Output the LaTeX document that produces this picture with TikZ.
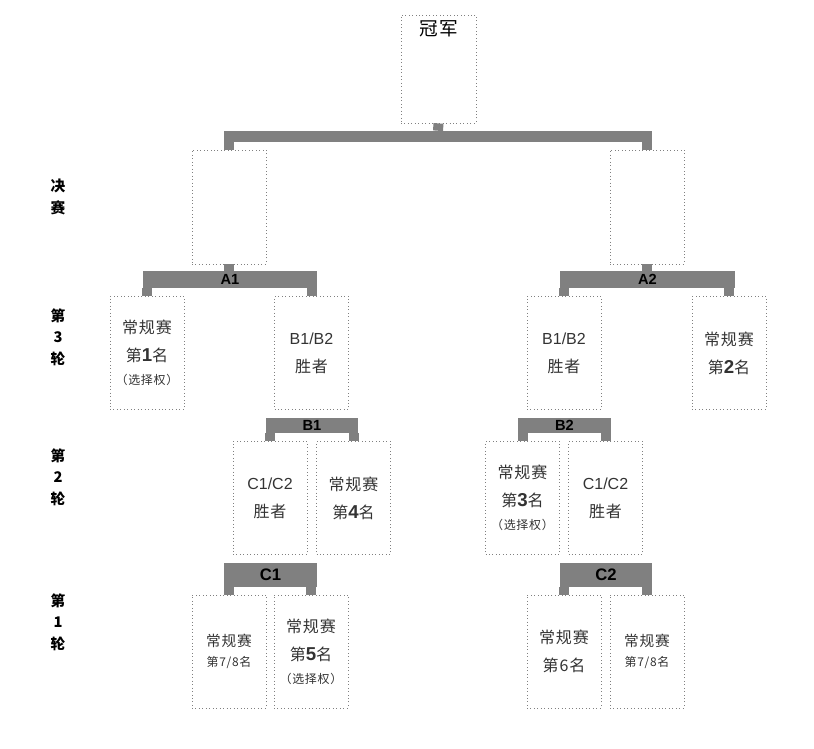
\documentclass[tikz,border=0pt]{standalone}
\usepackage{fontspec}
\setmainfont{Liberation Sans}
\newfontfamily\cjk[LetterSpace=6]{Noto Sans CJK SC}
\usetikzlibrary{positioning}
\newcommand{\rankno}[1]{第{\rmfamily\bfseries\fontsize{14}{14}\selectfont #1}名}
\newcommand{\optpick}{{\fontsize{9}{9}\selectfont （选择权）}}

\begin{document}
\begin{tikzpicture}
	[x=0.75pt,y=-0.75pt,line cap=butt,
	box/.style={draw=gray,dotted,line width=0.6pt,minimum width=55.5pt,minimum height=84.75pt,inner sep=0pt,align=center,text=black!80,font=\cjk\fontsize{12}{21}\selectfont},
	bar/.style={fill=gray,inner sep=0pt,font=\rmfamily\bfseries\fontsize{11}{11}\selectfont},
	stem/.style={draw=gray,line width=7.5pt},
	roundlab/.style={align=center,font=\cjk\bfseries\fontsize{11}{16}\selectfont}]
	\useasboundingbox (0,0) rectangle (814,749);
	\node[box,minimum width=56.25pt,minimum height=81pt] (champ) at (438.5,69) {};
	\node[below=1pt of champ.north,font=\cjk\fontsize{14}{14}\selectfont] (champtxt) {冠军};
	\node[bar,minimum width=321pt,minimum height=8.25pt] (top) at (438,136.5) {};
	\node[box,minimum height=85.5pt] (fL) at (229,207) {};
	\node[box,minimum height=85.5pt] (fR) at (647,207) {};
	\node[bar,minimum width=130.5pt,minimum height=12.75pt] (A1) at (230,279.5) {A1};
	\node[bar,minimum width=131.25pt,minimum height=12.75pt] (A2) at (647.5,279.5) {A2};
	\node[box] (r1) at (147,353) {常规赛\\\rankno{1}\\[-4pt]\optpick};
	\node[box] (b12L) at (311.5,353) {{\rmfamily B1/B2}\\胜者};
	\node[box] (b12R) at (564,353) {{\rmfamily B1/B2}\\胜者};
	\node[box] (r2) at (729,353) {常规赛\\\rankno{2}};
	\node[bar,minimum width=69pt,minimum height=11.25pt] (B1) at (312,425.5) {B1};
	\node[bar,minimum width=69.75pt,minimum height=11.25pt] (B2) at (564.5,425.5) {B2};
	\node[box] (c12L) at (270,498) {{\rmfamily C1/C2}\\胜者};
	\node[box] (r4) at (353.5,498) {常规赛\\\rankno{4}};
	\node[box] (r3) at (522.5,498) {常规赛\\\rankno{3}\\[-4pt]\optpick};
	\node[box] (c12R) at (605.5,498) {{\rmfamily C1/C2}\\胜者};
	\node[bar,minimum width=69.75pt,minimum height=18pt,font=\rmfamily\bfseries\fontsize{12.5}{12.5}\selectfont] (C1) at (270.5,575) {C1};
	\node[bar,minimum width=69pt,minimum height=18pt,font=\rmfamily\bfseries\fontsize{12.5}{12.5}\selectfont] (C2) at (606,575) {C2};
	\node[box,font=\cjk\fontsize{11}{15}\selectfont] (r78L) at (229,651.5) {常规赛\\{\fontsize{9}{9}\selectfont 第7/8名}};
	\node[box] (r5) at (311,651.5) {常规赛\\\rankno{5}\\[-4pt]\optpick};
	\node[box] (r6) at (564,651.5) {常规赛\\第6名};
	\node[box,font=\cjk\fontsize{11}{15}\selectfont] (r78R) at (647,651.5) {常规赛\\{\fontsize{9}{9}\selectfont 第7/8名}};
	\draw[stem] (champ.south) -- (top.north);
	\draw[stem] (top.south -| fL.north) -- (fL.north);
	\draw[stem] (top.south -| fR.north) -- (fR.north);
	\draw[stem] (fL.south) -- (A1.north -| fL.south);
	\draw[stem] (fR.south) -- (A2.north -| fR.south);
	\draw[stem] (A1.south -| r1.north) -- (r1.north);
	\draw[stem] (A1.south -| b12L.north) -- (b12L.north);
	\draw[stem] (A2.south -| b12R.north) -- (b12R.north);
	\draw[stem] (A2.south -| r2.north) -- (r2.north);
	\draw[stem] (B1.south -| c12L.north) -- (c12L.north);
	\draw[stem] (B1.south -| r4.north) -- (r4.north);
	\draw[stem] (B2.south -| r3.north) -- (r3.north);
	\draw[stem] (B2.south -| c12R.north) -- (c12R.north);
	\draw[stem] (C1.south -| r78L.north) -- (r78L.north);
	\draw[stem] (C1.south -| r5.north) -- (r5.north);
	\draw[stem] (C2.south -| r6.north) -- (r6.north);
	\draw[stem] (C2.south -| r78R.north) -- (r78R.north);
	\node[roundlab] (rfinal) at (58,197) {决\\赛};
	\node[roundlab] (round3) at (58,337) {第\\3\\轮};
	\node[roundlab] (round2) at (58,477) {第\\2\\轮};
	\node[roundlab] (round1) at (58,622) {第\\1\\轮};
\end{tikzpicture}
\end{document}
